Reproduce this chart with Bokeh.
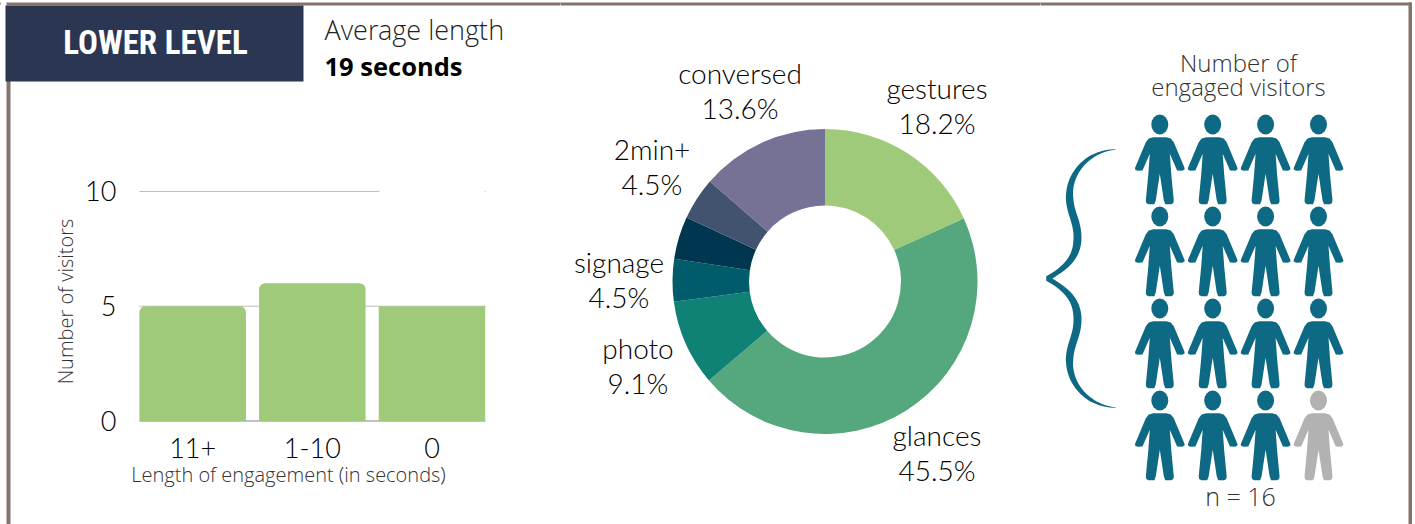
from bokeh.embed import file_html
from bokeh.resources import INLINE
from bokeh.core.properties import value
from bokeh.layouts import row
from bokeh.models import BoxAnnotation, FixedTicker, Label, Range1d
from bokeh.plotting import figure
import numpy as np

# ---- data -------------------------------------------------------------
length_labels = ["11+", "1-10", "0"]
length_visitors = [5, 6, 5]

activity_names = ["gestures", "glances", "photo", "signage", "", "2min+", "conversed"]
activity_shares = [18.2, 45.5, 9.1, 4.5, 4.5, 4.5, 13.6]
activity_colors = ["#9fca7a", "#55a77d", "#0f8175", "#005b6a", "#00364f", "#41536f", "#767296"]

visitor_total = 16
visitor_engaged = 15

# ---- shared styling ----------------------------------------------------
FRAME = "#85736a"
TEAL = "#0e6a84"
GREY = "#b2b2b2"
NAVY = "#2b3653"
LIGHT = "Open Sans Light"
GEOM = "Lato Light"
H = 524


def frame_piece(p, left, right, top, bottom, color=FRAME):
    p.add_layout(BoxAnnotation(left=left, right=right, top=H - top, bottom=H - bottom,
                               left_units="screen", right_units="screen",
                               top_units="screen", bottom_units="screen",
                               fill_color=color, fill_alpha=1, line_color=None,
                               level="overlay"))


def note(p, x, y, text, size, font=LIGHT, color="#222222", align="left", style="normal"):
    p.add_layout(Label(x=x, y=H - y, x_units="screen", y_units="screen", text=text,
                       text_font=font, text_font_size=f"{size}px", text_color=color,
                       text_align=align, text_baseline="middle", text_font_style=style,
                       level="overlay"))


# ---- bar chart with header ---------------------------------------------
BAR_L, BAR_R = -0.445, 2.447
bars = figure(width=560, height=H, output_backend="svg", toolbar_location=None,
              x_range=Range1d(-1.606, 3.074), y_range=Range1d(-4.51, 18.32),
              min_border=0, outline_line_color=None,
              x_axis_location="below", y_axis_location="left")
bars.grid.visible = False

# The top gridline stops above the second bar and resumes as a speck at the far edge
bars.segment(x0=[BAR_L, BAR_L, 2.44], x1=[BAR_R, 1.56, BAR_R], y0=[5, 10, 10], y1=[5, 10, 10],
             line_color="#bdbdbd", line_width=1)
bars.segment(x0=[BAR_L], x1=[BAR_R], y0=[0], y1=[0], line_color="#808080", line_width=1)

bar_x = list(range(len(length_labels)))
for i in (0, 1):
    bars.vbar(x=[bar_x[i]], top=[length_visitors[i]], bottom=0, width=0.89,
              fill_color="#9fca7a", line_color=None, border_radius=(6, 6, 0, 0))
bars.vbar(x=[bar_x[2]], top=[length_visitors[2]], bottom=0, width=0.89,
          fill_color="#9fca7a", line_color=None)

# Axis bounds are asymmetric because the axis titles centre on them
xax = bars.xaxis[0]
xax.fixed_location = 0
xax.bounds = (BAR_L, 2.045)
xax.ticker = FixedTicker(ticks=bar_x)
xax.major_label_overrides = {i: t for i, t in enumerate(length_labels)}
xax.major_tick_line_color = None
xax.minor_tick_line_color = None
xax.axis_line_color = None
xax.major_label_text_font = GEOM
xax.major_label_text_font_size = "27px"
xax.major_label_text_color = "#000000"
xax.major_label_standoff = 11
xax.axis_label = "Length of engagement (in seconds)"
xax.axis_label_text_font = LIGHT
xax.axis_label_text_font_size = "20px"
xax.axis_label_text_font_style = "normal"
xax.axis_label_text_color = "#333333"
xax.axis_label_standoff = 0

yax = bars.yaxis[0]
yax.fixed_location = BAR_L
yax.bounds = (0, 10.4)
yax.ticker = FixedTicker(ticks=[0, 5, 10])
yax.major_tick_line_color = None
yax.minor_tick_line_color = None
yax.axis_line_color = None
yax.major_label_text_font = GEOM
yax.major_label_text_font_size = "27px"
yax.major_label_text_color = "#000000"
yax.major_label_standoff = 17
yax.axis_label = "Number of visitors"
yax.axis_label_text_font = LIGHT
yax.axis_label_text_font_size = "20px"
yax.axis_label_text_font_style = "normal"
yax.axis_label_text_color = "#333333"
yax.axis_label_standoff = 3

frame_piece(bars, 6, 10, 78, 524)
frame_piece(bars, 6, 562, 2, 5)
frame_piece(bars, 5, 303, 5, 81, NAVY)
note(bars, 155, 42, "LOWER LEVEL", 33, "Roboto Condensed, DejaVu Sans Condensed", "#ffffff", "center", "bold")
note(bars, 324, 29, "Average length", 27, LIGHT, "#222222")
note(bars, 324, 65, "19 seconds", 25.5, "Open Sans", "#000000", "left", "bold")

# ---- activity ring -----------------------------------------------------
RING_W = 480
ring = figure(width=RING_W, height=H, output_backend="svg", toolbar_location=None,
              x_range=Range1d(-264.5, 215.5), y_range=Range1d(-243, 281),
              min_border=0, outline_line_color=None)
ring.axis.visible = False
ring.grid.visible = False

shares = np.array(activity_shares)
ends = np.cumsum(shares) / shares.sum() * 2 * np.pi
starts = np.concatenate([[0], ends[:-1]])
ring.annular_wedge(x=0, y=0, inner_radius=76, outer_radius=152.5,
                   start_angle=np.pi / 2 - ends, end_angle=np.pi / 2 - starts,
                   fill_color=activity_colors, line_color=None)

# Label anchors sit next to their slices, offset from the ring centre
label_anchor = {"gestures": (112, 194), "glances": (112, -153), "photo": (-187, -66),
                "signage": (-206, 20), "2min+": (-173, 133), "conversed": (-85, 209)}
for name, share in zip(activity_names, activity_shares):
    if not name:
        continue
    ax, ay = label_anchor[name]
    ring.text(x=[ax, ax], y=[ay, ay - 35], text=[name, f"{share}%"],
              text_font=value(GEOM), text_font_size="28px", text_color="#000000",
              text_align="center", text_baseline="middle")
# Top rule across this panel, in the panel's own units
ring.quad(left=[-264.5], right=[215.5], top=[279], bottom=[276], fill_color=FRAME, line_color=None)

# ---- visitor pictogram -------------------------------------------------
PEOPLE_W = 1415 - 560 - RING_W
people = figure(width=PEOPLE_W, height=H, output_backend="svg", toolbar_location=None,
                x_range=Range1d(1040, 1415), y_range=Range1d(H, 0),
                min_border=0, outline_line_color=None)
people.axis.visible = False
people.grid.visible = False

half_body_x = [0, 6.5, 11, 14, 24.7, 24.8, 22.3, 17.3, 10, 11.5, 14, 13.5, 11.5, 5.5, 4, 0]
half_body_y = [12.7, 12.7, 14, 17.7, 43.3, 45, 46.3, 46, 29.3, 50, 76, 78.5, 79.7, 79.7, 75.7, 49.3]
body_x = np.array(half_body_x + [-v for v in half_body_x[-2:0:-1]])
body_y = np.array(half_body_y + half_body_y[-2:0:-1])

cols = visitor_total // 4
xs, ys, colors, hx, hy = [], [], [], [], []
for n in range(visitor_total):
    r, c = divmod(n, cols)
    cx = 1159.3 + c * 52.9
    cy = 124 + r * 92
    xs.append(list(cx + body_x))
    ys.append(list(cy + body_y))
    hx.append(cx)
    hy.append(cy)
    colors.append(TEAL if n < visitor_engaged else GREY)
people.patches(xs, ys, fill_color=colors, line_color=None)
people.ellipse(x=hx, y=hy, width=17, height=20, fill_color=colors, line_color=None)


def cubic(p0, p1, p2, p3, n=30):
    t = np.linspace(0, 1, n)[:, None]
    p0, p1, p2, p3 = map(np.array, (p0, p1, p2, p3))
    return (1 - t) ** 3 * p0 + 3 * (1 - t) ** 2 * t * p1 + 3 * (1 - t) * t ** 2 * p2 + t ** 3 * p3


# Tapered curly brace: centre line plus a varying thickness
upper = np.vstack([
    cubic((1115, 149), (1090, 150), (1069, 170), (1069, 195)),
    cubic((1069, 195), (1069, 212), (1077, 220), (1077, 237)),
    cubic((1077, 237), (1077, 258), (1064, 268), (1047, 278)),
])
along = np.linspace(0, 1, len(upper))
thick = np.interp(along, [0, 0.12, 0.35, 0.7, 0.93, 1], [0.3, 3.5, 7.5, 8, 5, 5])
d = np.gradient(upper, axis=0)
normal = np.column_stack([-d[:, 1], d[:, 0]]) / np.linalg.norm(d, axis=1)[:, None]
side_a = upper + normal * thick[:, None] / 2
side_b = upper - normal * thick[:, None] / 2
mirror = lambda pts: np.column_stack([pts[:, 0], 2 * 278 - pts[:, 1]])
outline = np.vstack([side_a, mirror(side_a)[::-1], mirror(side_b), side_b[::-1]])
people.patch(outline[:, 0], outline[:, 1], fill_color=TEAL, line_color=None)

people.text(x=[1238, 1238], y=[62, 86], text=["Number of", "engaged visitors"],
            text_font=value(LIGHT), text_font_size="24px", text_color="#333333",
            text_align="center", text_baseline="middle")
people.text(x=[1240], y=[495], text=["n = 16"],
            text_font=value(LIGHT), text_font_size="25px", text_color="#333333",
            text_align="center", text_baseline="middle")

people.quad(left=[1040], right=[1411.5], top=[2], bottom=[5], fill_color=FRAME, line_color=None)
people.quad(left=[1408], right=[1411.5], top=[2], bottom=[H], fill_color=FRAME, line_color=None)

# The row paints the same top rule behind the panels so their joins stay closed
page = row(bars, ring, people, spacing=0,
           styles={"background-image": f"linear-gradient({FRAME},{FRAME})",
                   "background-size": "100% 3px",
                   "background-position": "0 2px",
                   "background-repeat": "no-repeat"})
open("out.html", "w").write(file_html(page, INLINE))
